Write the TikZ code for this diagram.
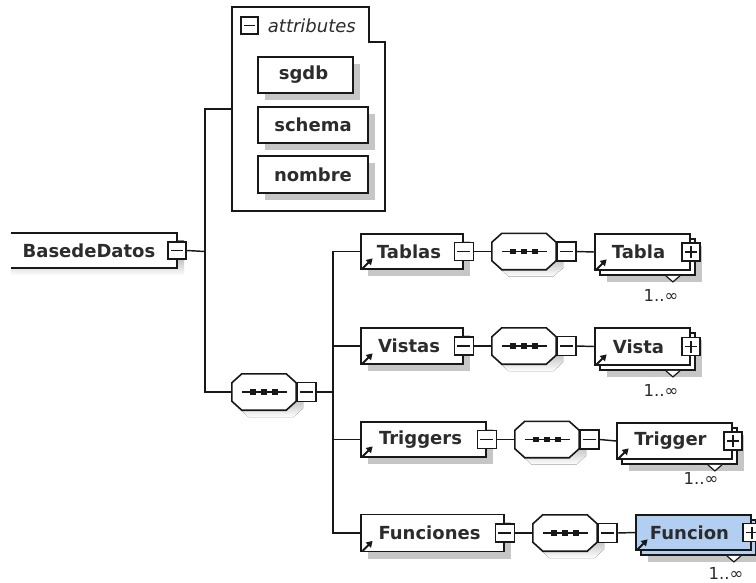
\documentclass[tikz,border=0pt]{standalone}
\usepackage{fontspec}
\setmainfont{DejaVu Sans}
\usetikzlibrary{shadows,arrows.meta}

\definecolor{ink}{RGB}{24,24,24}
\definecolor{labelgray}{RGB}{44,44,44}
\definecolor{shade}{RGB}{198,198,198}
\definecolor{globalfill}{RGB}{178,206,240}

\tikzset{
  wire/.style={draw=ink, line width=1.45pt},
  boxline/.style={draw=ink, line width=1.8pt},
  flatshadow/.style={drop shadow={shadow xshift=7pt, shadow yshift=-7pt, opacity=1, fill=shade}},
  elemnode/.style={boxline, fill=white, rectangle, inner sep=0pt},
  elabel/.style={inner sep=0pt, text=labelgray, font=\fontsize{18}{20}\selectfont\bfseries},
  occ/.style={inner sep=0pt, text=labelgray, font=\fontsize{16.5}{18}\selectfont},
  btnbase/.style={draw=ink, line width=1.5pt, fill=white, rectangle, inner sep=0pt,
    minimum width=18pt, minimum height=17pt},
  btn/.style={btnbase,
    path picture={\draw[ink, line width=1.2pt]
      ([xshift=3pt]path picture bounding box.west) -- ([xshift=-3pt]path picture bounding box.east);}},
  btnplus/.style={btnbase,
    path picture={\draw[ink, line width=1.2pt]
      ([xshift=3pt]path picture bounding box.west) -- ([xshift=-3pt]path picture bounding box.east)
      ([yshift=3pt]path picture bounding box.south) -- ([yshift=-3pt]path picture bounding box.north);}},
  refarrow/.style={ink, line width=2.1pt, -{Triangle[length=6pt,width=7pt]}},
  seqcore/.style={rectangle, inner sep=0pt, minimum width=64pt, minimum height=36pt},
}

% octagon outline of a sequence compositor, offset by (#2,#3)
\newcommand\octpath[3]{([shift={(10+#2,#3)}]#1.north west) -- ([shift={(-10+#2,#3)}]#1.north east)
  -- ([shift={(#2,9+#3)}]#1.north east) -- ([shift={(#2,-9+#3)}]#1.south east)
  -- ([shift={(-10+#2,#3)}]#1.south east) -- ([shift={(10+#2,#3)}]#1.south west)
  -- ([shift={(#2,-9+#3)}]#1.south west) -- ([shift={(#2,9+#3)}]#1.north west) -- cycle}

% sequence compositor with its collapse button
\newcommand\seqgroup[3]{%
  \node[seqcore] (#1) at (#2,#3) {};
  \fill[shade] \octpath{#1}{7}{7};
  \filldraw[boxline, line width=1.6pt, fill=white] \octpath{#1}{0}{0};
  \draw[wire] ([shift={(10,0)}]#1.west) -- ([shift={(-9,0)}]#1.east);
  \foreach \d in {-11,0,11}
    \fill[ink] ([shift={(\d,0)}]#1.center) +(-2.6,-2.6) rectangle +(2.6,2.6);
  \node[btn, anchor=west, minimum width=19pt, minimum height=19pt] (#1-btn) at (#1.east) {};
}

% single element reference
\newcommand\elem[6]{%
  \node[elemnode, flatshadow, minimum width=#4pt, minimum height=#5pt] (#1) at (#2,#3) {};
  \node[elabel] (#1-txt) at ([shift={(-3,0)}]#1.center) {#6};
  \draw[refarrow] ([shift={(2.5,-1.5)}]#1.south west) -- ++(10,-10);
  \node[btn, minimum width=19pt, minimum height=18pt] (#1-btn) at (#1.east) {};
}

% repeated element reference (stacked boxes)
\newcommand\multielem[7]{%
  \node[elemnode, flatshadow, fill=#7, minimum width=#4pt, minimum height=#5pt] (#1-back) at (#2+5,#3+5) {};
  \filldraw[draw=ink, line width=1.2pt, fill=white]
    ([shift={(-30,0)}]#1-back.south east) -- ([shift={(-23,6)}]#1-back.south east)
    -- ([shift={(-16,0)}]#1-back.south east);
  \node[elemnode, fill=#7, minimum width=#4pt, minimum height=#5pt] (#1) at (#2,#3) {};
  \node[elabel] (#1-txt) at ([shift={(-4,0)}]#1.center) {#6};
  \draw[refarrow] ([shift={(2.5,-1.5)}]#1.south west) -- ++(10,-10);
  \node[btnplus, minimum width=18pt, minimum height=18pt] (#1-btn) at (#1.east) {};
}

\begin{document}
\begin{tikzpicture}[x=1pt, y=-1pt]
\useasboundingbox (0,0) rectangle (756,582);
\clip (0,0) rectangle (756,582);
\fill[white] (0,0) rectangle (756,582);

% root element
\fill[shade] (11,240) rectangle (184,275.5);
\node[rectangle, fill=white, inner sep=0pt, minimum width=166pt, minimum height=35pt] (db) at (94,250.5) {};
\draw[boxline] (db.north west) -- (db.north east) -- (db.south east) -- (db.south west);
\node[elabel] (db-txt) at ([shift={(-5,0)}]db.center) {BasedeDatos};
\node[btn] (db-btn) at (db.east) {};

% attribute group
\node[rectangle, inner sep=0pt, minimum width=153pt, minimum height=204pt] (attrs) at (308.5,109) {};
\draw[draw=ink, line width=1.5pt] (attrs.north west) -- ([shift={(-16,0)}]attrs.north east)
  -- ([shift={(-16,35)}]attrs.north east) -- ([shift={(0,35)}]attrs.north east)
  -- (attrs.south east) -- (attrs.south west) -- cycle;
\node[btn, minimum width=17pt, minimum height=17pt] (attrs-btn) at (249.5,25.5) {};
\node[anchor=west, inner sep=0pt, text=labelgray, font=\fontsize{18}{20}\selectfont\itshape]
  (attrs-title) at ([shift={(9,0)}]attrs-btn.east) {attributes};

\node[elemnode, flatshadow, minimum width=95pt, minimum height=36pt] (sgdb) at (305.5,75) {};
\node[elabel] (sgdb-txt) at ([shift={(-2,0)}]sgdb.center) {sgdb};
\node[elemnode, flatshadow, minimum width=110pt, minimum height=36pt] (schema) at (313,125) {};
\node[elabel] (schema-txt) at (schema.center) {schema};
\node[elemnode, flatshadow, minimum width=110pt, minimum height=37pt] (nombre) at (313,174.5) {};
\node[elabel] (nombre-txt) at (nombre.center) {nombre};

% top-level sequence
\seqgroup{seq0}{264}{392}

% child rows
\elem{tablas}{412}{251.5}{102}{35}{Tablas}
\seqgroup{seqT}{524}{251.5}
\multielem{tabla}{642.5}{252}{95}{36}{Tabla}{white}
\node[occ] (tabla-occ) at (661,295) {1..∞};

\elem{vistas}{412}{346}{102}{36}{Vistas}
\seqgroup{seqV}{524}{346}
\multielem{vista}{642.5}{346.5}{95}{37}{Vista}{white}
\node[occ] (vista-occ) at (661,390) {1..∞};

\elem{triggers}{423.5}{439.5}{125}{35}{Triggers}
\seqgroup{seqTr}{547}{439.5}
\multielem{trigger}{674.5}{441}{115}{36}{Trigger}{white}
\node[occ] (trigger-occ) at (701,478) {1..∞};

\elem{funciones}{432.5}{533}{143}{37}{Funciones}
\seqgroup{seqF}{565}{533}
\multielem{funcion}{693.5}{532.5}{115}{35}{Funcion}{globalfill}
\node[occ] (funcion-occ) at (726,573) {1..∞};

% connectors
\coordinate (fork) at (205,251.5);
\coordinate (split) at (333,392);
\draw[wire] (db-btn.east) -- (fork);
\draw[wire] (attrs.west) -| (fork) |- (seq0.west);
\draw[wire] (seq0-btn.east) -- (split);
\foreach \r in {tablas,vistas,triggers,funciones}
  \draw[wire] (split) |- (\r.west);
\draw[wire] (tablas-btn.east) -- (seqT.west);
\draw[wire] (seqT-btn.east) -- (tabla.west);
\draw[wire] (vistas-btn.east) -- (seqV.west);
\draw[wire] (seqV-btn.east) -- (vista.west);
\draw[wire] (triggers-btn.east) -- (seqTr.west);
\draw[wire] (seqTr-btn.east) -- (trigger.west);
\draw[wire] (funciones-btn.east) -- (seqF.west);
\draw[wire] (seqF-btn.east) -- (funcion.west);
\end{tikzpicture}
\end{document}
